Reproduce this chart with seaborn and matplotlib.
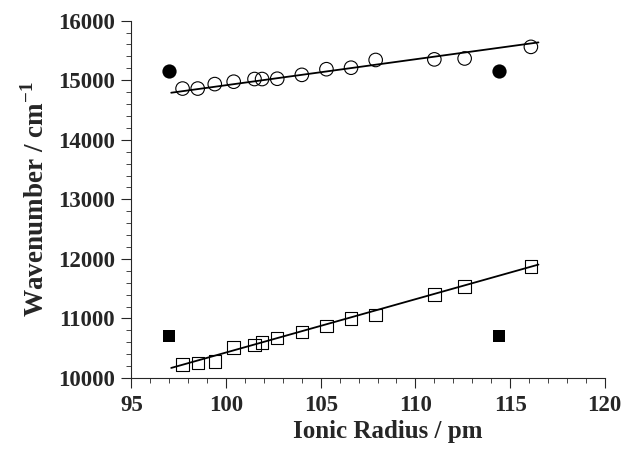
import matplotlib
matplotlib.use("Agg")
import matplotlib.pyplot as plt
import seaborn as sns
import numpy as np
import pandas as pd
from matplotlib.ticker import MultipleLocator

# --- data ---
radius = [97.7, 98.5, 99.4, 100.4, 101.5, 101.9, 102.7, 104.0, 105.3, 106.6, 107.9, 111.0, 112.6, 116.1]
upper_open = [14860, 14860, 14935, 14975, 15020, 15020, 15025, 15090, 15185, 15210, 15340, 15350, 15365, 15560]
lower_open = [10230, 10250, 10280, 10510, 10555, 10600, 10670, 10775, 10875, 11000, 11060, 11405, 11535, 11870]

filled_radius = [97.0, 114.4]
upper_filled = [15160, 15160]
lower_filled = [10700, 10700]

fit_x = [97.1, 116.5]
upper_fit = [14790, 15635]
lower_fit = [10170, 11905]

x_ticks = [95, 100, 105, 110, 115, 120]
y_ticks = [10000, 11000, 12000, 13000, 14000, 15000, 16000]

sns.set_style("ticks")
plt.rcParams['font.family'] = ['Liberation Serif', 'DejaVu Serif']
plt.rcParams['font.weight'] = 'bold'
plt.rcParams['mathtext.fontset'] = 'custom'
plt.rcParams['mathtext.rm'] = 'Liberation Serif'
plt.rcParams['mathtext.bf'] = 'Liberation Serif:bold'

fig = plt.figure(figsize=(6.26, 4.49), dpi=100)
ax = fig.add_axes([0.21, 0.158, 0.756, 0.796])

df_open = pd.DataFrame({"r": radius, "up": upper_open, "lo": lower_open})
df_fill = pd.DataFrame({"r": filled_radius, "up": upper_filled, "lo": lower_filled})
df_fit = pd.DataFrame({"r": fit_x, "up": upper_fit, "lo": lower_fit})

sns.lineplot(data=df_fit, x="r", y="up", ax=ax, color="black", linewidth=1.3)
sns.lineplot(data=df_fit, x="r", y="lo", ax=ax, color="black", linewidth=1.3)

sns.scatterplot(data=df_open, x="r", y="up", ax=ax, marker="o", s=95,
                facecolor="none", edgecolor="black", linewidth=0.8, zorder=3)
sns.scatterplot(data=df_open, x="r", y="lo", ax=ax, marker="s", s=80,
                facecolor="none", edgecolor="black", linewidth=0.8, zorder=3)
sns.scatterplot(data=df_fill, x="r", y="up", ax=ax, marker="o", s=105,
                color="black", edgecolor="black", linewidth=0, zorder=3)
sns.scatterplot(data=df_fill, x="r", y="lo", ax=ax, marker="s", s=80,
                color="black", edgecolor="black", linewidth=0, zorder=3)

ax.set_xlim(95, 120)
ax.set_ylim(10000, 16000)
ax.set_xticks(x_ticks)
ax.set_yticks(y_ticks)
ax.xaxis.set_minor_locator(MultipleLocator(1))
ax.yaxis.set_minor_locator(MultipleLocator(200))
ax.tick_params(which="major", length=7, width=0.8, direction="out", labelsize=16.5, pad=5)
ax.tick_params(which="minor", length=3.5, width=0.6, direction="out")
for lab in ax.get_xticklabels() + ax.get_yticklabels():
    lab.set_fontweight("bold")

sns.despine(ax=ax)
for s in ["left", "bottom"]:
    ax.spines[s].set_linewidth(0.8)

ax.set_xlabel("Ionic Radius / pm", fontsize=18, fontweight="bold")
ax.xaxis.set_label_coords(0.542, -0.118, transform=ax.transAxes)
ax.xaxis.label.set_va("top")
ax.set_ylabel(r"Wavenumber / cm$^{\mathbf{-1}}$", fontsize=19.5, fontweight="bold", labelpad=6)

fig.savefig("out.png", dpi=100)
